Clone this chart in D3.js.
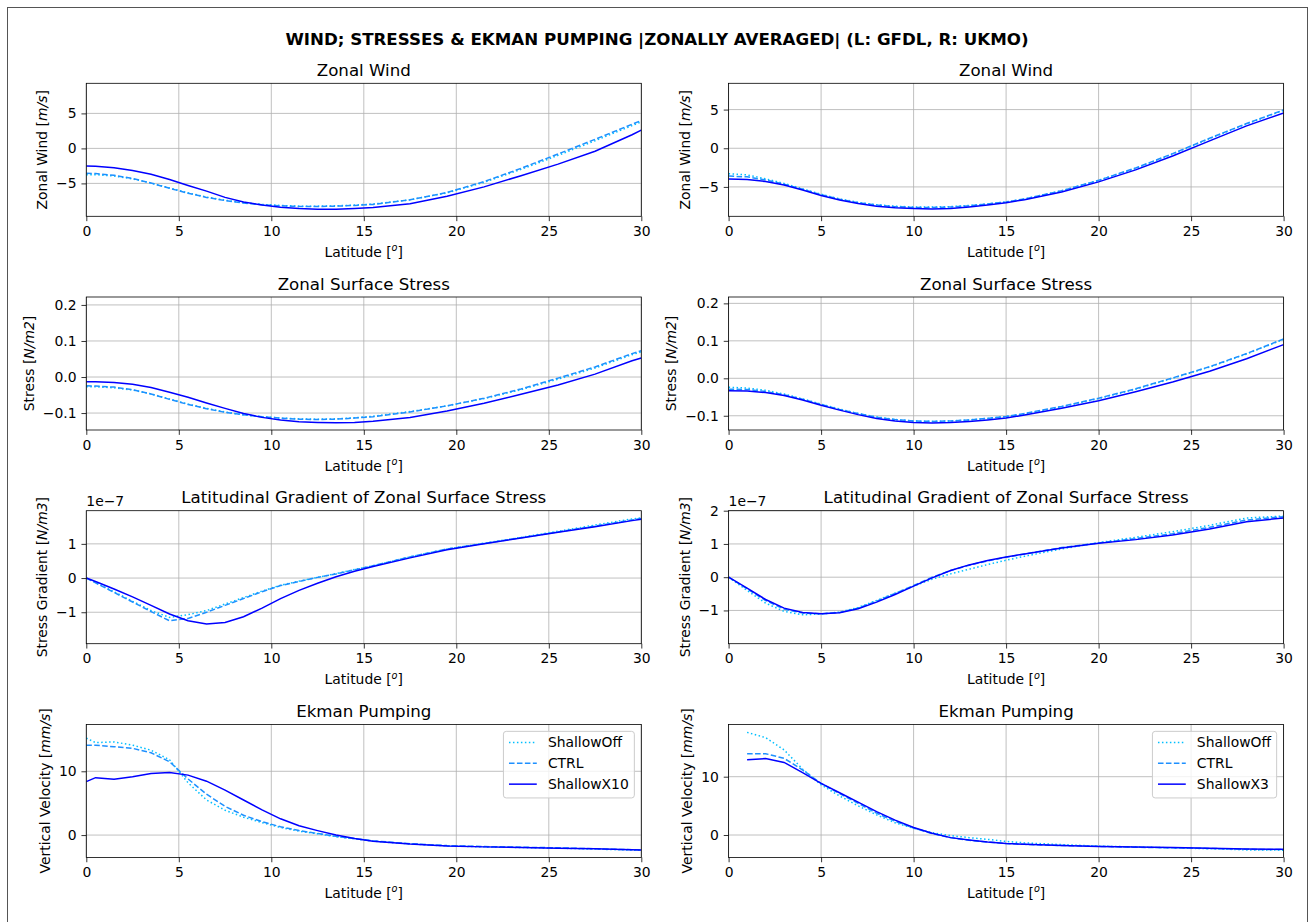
<!DOCTYPE html>
<html>
<head>
<meta charset="utf-8">
<script src="https://cdn.jsdelivr.net/npm/d3@7"></script>
<style>
  body { margin: 0; background: #fff; }
  svg { font-family: "DejaVu Sans", sans-serif; }
</style>
</head>
<body>
<div id="chart"></div>
<script>
// Latitudes of the two models
const latGFDL = [0, 0.5, 1.5, 2.5, 3.5, 4.5, 5.5, 6.5, 7.5, 8.5, 9.5, 10.5, 11.5, 12.5, 13.5, 14.5, 15.5, 17.5, 19.5, 21.5, 23.5, 25.5, 27.5, 29.5, 30]
const latUKMO = [0, 1, 2, 3, 4, 5, 6, 7, 8, 9, 10, 11, 12, 13, 14, 15, 16, 18, 20, 22, 24, 26, 28, 30]

// GFDL (left)
const gfdlWindOff  = [-3.75, -3.75, -3.95, -4.35, -4.95, -5.65, -6.35, -6.95, -7.4, -7.75, -8.0, -8.15, -8.25, -8.25, -8.2, -8.1, -7.95, -7.35, -6.35, -4.85, -3.0, -1.0, 1.1, 3.25, 3.8]
const gfdlWindCtrl = [-3.55, -3.6, -3.85, -4.3, -4.95, -5.7, -6.4, -7.0, -7.45, -7.8, -8.05, -8.2, -8.3, -8.3, -8.25, -8.15, -8.0, -7.35, -6.3, -4.75, -2.85, -0.8, 1.3, 3.45, 4.0]
const gfdlWindX10  = [-2.5, -2.55, -2.75, -3.15, -3.7, -4.45, -5.3, -6.1, -7.0, -7.65, -8.1, -8.4, -8.6, -8.7, -8.7, -8.6, -8.45, -7.9, -6.85, -5.5, -3.9, -2.25, -0.4, 1.95, 2.6]

const gfdlStressOff  = [-0.027, -0.027, -0.030, -0.036, -0.047, -0.061, -0.075, -0.087, -0.097, -0.105, -0.110, -0.114, -0.116, -0.117, -0.116, -0.113, -0.109, -0.096, -0.080, -0.060, -0.035, -0.006, 0.025, 0.062, 0.070]
const gfdlStressCtrl = [-0.024, -0.025, -0.028, -0.035, -0.047, -0.062, -0.076, -0.088, -0.098, -0.105, -0.110, -0.114, -0.117, -0.118, -0.117, -0.114, -0.110, -0.097, -0.080, -0.059, -0.033, -0.003, 0.028, 0.065, 0.073]
const gfdlStressX10  = [-0.013, -0.013, -0.015, -0.020, -0.029, -0.042, -0.056, -0.072, -0.087, -0.101, -0.112, -0.119, -0.124, -0.126, -0.127, -0.126, -0.123, -0.112, -0.094, -0.073, -0.048, -0.022, 0.008, 0.045, 0.053]

const gfdlGradOff  = [0, -0.13, -0.4, -0.68, -0.95, -1.15, -1.07, -0.95, -0.76, -0.57, -0.38, -0.21, -0.09, 0.02, 0.13, 0.25, 0.36, 0.62, 0.85, 1.02, 1.19, 1.37, 1.55, 1.73, 1.76]
const gfdlGradCtrl = [0, -0.14, -0.42, -0.7, -0.98, -1.25, -1.18, -1.0, -0.8, -0.6, -0.4, -0.22, -0.1, 0.02, 0.12, 0.24, 0.36, 0.62, 0.85, 1.01, 1.18, 1.35, 1.52, 1.70, 1.74]
const gfdlGradX10  = [0, -0.1, -0.32, -0.55, -0.8, -1.05, -1.25, -1.345, -1.3, -1.13, -0.88, -0.6, -0.36, -0.15, 0.04, 0.2, 0.34, 0.59, 0.83, 1.0, 1.17, 1.34, 1.5, 1.68, 1.72]

const gfdlEkmanOff  = [15.2, 14.5, 14.6, 14.1, 13.3, 11.8, 8.2, 5.5, 3.9, 2.8, 1.95, 1.2, 0.6, 0.2, -0.25, -0.6, -0.95, -1.4, -1.7, -1.85, -1.95, -2.05, -2.2, -2.35, -2.4]
const gfdlEkmanCtrl = [14.1, 14.1, 13.85, 13.6, 12.9, 11.5, 8.8, 6.4, 4.5, 3.1, 2.1, 1.3, 0.7, 0.25, -0.2, -0.55, -0.9, -1.35, -1.65, -1.8, -1.9, -2.0, -2.15, -2.3, -2.35]
const gfdlEkmanX10  = [8.37, 9.0, 8.74, 9.15, 9.65, 9.8, 9.4, 8.45, 7.05, 5.5, 3.95, 2.55, 1.45, 0.7, 0.0, -0.55, -0.95, -1.4, -1.7, -1.85, -1.95, -2.05, -2.15, -2.3, -2.35]

// UKMO (right)
const ukmoWindOff  = [-3.3, -3.45, -3.95, -4.55, -5.25, -5.95, -6.55, -7.0, -7.3, -7.5, -7.6, -7.6, -7.55, -7.4, -7.2, -6.95, -6.55, -5.5, -4.15, -2.6, -0.75, 1.25, 3.15, 4.9]
const ukmoWindCtrl = [-3.6, -3.7, -4.1, -4.65, -5.3, -6.0, -6.6, -7.05, -7.35, -7.55, -7.65, -7.65, -7.6, -7.45, -7.2, -6.95, -6.55, -5.5, -4.15, -2.55, -0.7, 1.3, 3.2, 4.95]
const ukmoWindX3   = [-3.97, -4.05, -4.3, -4.75, -5.4, -6.1, -6.7, -7.15, -7.5, -7.7, -7.8, -7.85, -7.8, -7.6, -7.35, -7.05, -6.65, -5.65, -4.35, -2.8, -1.0, 0.95, 2.9, 4.55]

const ukmoStressOff  = [-0.024, -0.026, -0.032, -0.042, -0.055, -0.069, -0.082, -0.094, -0.103, -0.110, -0.114, -0.115, -0.114, -0.111, -0.107, -0.102, -0.095, -0.076, -0.054, -0.029, 0.000, 0.030, 0.065, 0.104]
const ukmoStressCtrl = [-0.029, -0.030, -0.035, -0.044, -0.056, -0.070, -0.083, -0.094, -0.104, -0.110, -0.114, -0.115, -0.114, -0.111, -0.107, -0.102, -0.094, -0.075, -0.053, -0.028, 0.001, 0.031, 0.066, 0.105]
const ukmoStressX3   = [-0.033, -0.034, -0.038, -0.046, -0.058, -0.072, -0.085, -0.097, -0.107, -0.114, -0.118, -0.119, -0.118, -0.115, -0.111, -0.106, -0.098, -0.080, -0.060, -0.036, -0.010, 0.019, 0.052, 0.090]

const ukmoGradOff  = [0, -0.4, -0.78, -1.03, -1.13, -1.11, -1.05, -0.91, -0.7, -0.48, -0.27, -0.06, 0.1, 0.24, 0.38, 0.51, 0.63, 0.85, 1.04, 1.2, 1.37, 1.56, 1.78, 1.84]
const ukmoGradCtrl = [0, -0.35, -0.7, -0.96, -1.08, -1.1, -1.06, -0.93, -0.72, -0.49, -0.25, 0.0, 0.2, 0.36, 0.49, 0.6, 0.7, 0.89, 1.03, 1.16, 1.31, 1.5, 1.72, 1.82]
const ukmoGradX3   = [0, -0.33, -0.67, -0.93, -1.06, -1.1, -1.07, -0.95, -0.75, -0.52, -0.27, -0.02, 0.2, 0.37, 0.5, 0.61, 0.7, 0.88, 1.02, 1.13, 1.27, 1.45, 1.67, 1.78]

const ukmoEkmanOff  = [null, 17.6, 16.7, 14.6, 11.3, 8.6, 6.7, 5.0, 3.45, 2.1, 1.15, 0.4, -0.1, -0.45, -0.75, -1.1, -1.35, -1.65, -1.9, -2.05, -2.2, -2.35, -2.55, -2.6]
const ukmoEkmanCtrl = [null, 13.95, 13.95, 13.15, 11.15, 8.85, 7.1, 5.45, 3.75, 2.35, 1.2, 0.25, -0.45, -0.9, -1.2, -1.45, -1.6, -1.8, -1.95, -2.1, -2.2, -2.3, -2.45, -2.5]
const ukmoEkmanX3   = [null, 12.9, 13.1, 12.45, 10.7, 8.85, 7.25, 5.65, 4.0, 2.55, 1.3, 0.3, -0.45, -0.85, -1.2, -1.45, -1.6, -1.8, -1.95, -2.05, -2.15, -2.25, -2.4, -2.45]

// Labels and ticks
const xTicks = [0, 5, 10, 15, 20, 25, 30]
const titles = ['Zonal Wind', 'Zonal Surface Stress', 'Latitudinal Gradient of Zonal Surface Stress', 'Ekman Pumping']
const yLabels = [['Zonal Wind [', 'm/s', ']'], ['Stress [', 'N/m2', ']'], ['Stress Gradient [', 'N/m3', ']'], ['Vertical Velocity [', 'mm/s', ']']]
const namesGFDL = ['ShallowOff', 'CTRL', 'ShallowX10']
const namesUKMO = ['ShallowOff', 'CTRL', 'ShallowX3']
const colors = ['#00bfff', '#1e90ff', '#0000ff']
const dashes = ['1.5,2.475', '5.55,2.4', null]

// Layout
const W = 1308, H = 922
const colX = [86.3, 728.6]
const rowY = [83.3, 297, 510.7, 724.4]
const pw = 555, ph = 133
const fs = 13.9

const panels = [
  { col: 0, row: 0, lat: latGFDL, s: [gfdlWindOff, gfdlWindCtrl, gfdlWindX10], dom: [-9.7, 9.3], ticks: [-5, 0, 5], fmt: d3.format('d') },
  { col: 1, row: 0, lat: latUKMO, s: [ukmoWindOff, ukmoWindCtrl, ukmoWindX3], dom: [-8.8, 8.4], ticks: [-5, 0, 5], fmt: d3.format('d') },
  { col: 0, row: 1, lat: latGFDL, s: [gfdlStressOff, gfdlStressCtrl, gfdlStressX10], dom: [-0.147, 0.222], ticks: [-0.1, 0, 0.1, 0.2], fmt: d3.format('.1f') },
  { col: 1, row: 1, lat: latUKMO, s: [ukmoStressOff, ukmoStressCtrl, ukmoStressX3], dom: [-0.138, 0.217], ticks: [-0.1, 0, 0.1, 0.2], fmt: d3.format('.1f') },
  { col: 0, row: 2, lat: latGFDL, s: [gfdlGradOff, gfdlGradCtrl, gfdlGradX10], dom: [-1.92, 1.97], ticks: [-1, 0, 1], fmt: d3.format('d'), offset: true },
  { col: 1, row: 2, lat: latUKMO, s: [ukmoGradOff, ukmoGradCtrl, ukmoGradX3], dom: [-2, 2], ticks: [-1, 0, 1, 2], fmt: d3.format('d'), offset: true },
  { col: 0, row: 3, lat: latGFDL, s: [gfdlEkmanOff, gfdlEkmanCtrl, gfdlEkmanX10], dom: [-3.5, 17.35], ticks: [0, 10], fmt: d3.format('d'), names: namesGFDL },
  { col: 1, row: 3, lat: latUKMO, s: [ukmoEkmanOff, ukmoEkmanCtrl, ukmoEkmanX3], dom: [-3.84, 18.97], ticks: [0, 10], fmt: d3.format('d'), names: namesUKMO }
]

const svg = d3.select('#chart').append('svg')
  .attr('width', W)
  .attr('height', H)

// figure frame
svg.append('rect')
  .attr('x', 7.5).attr('y', 7.5)
  .attr('width', 1300).attr('height', 940)
  .attr('fill', '#fff').attr('stroke', '#555').attr('stroke-width', 1)

svg.append('text')
  .attr('x', 657).attr('y', 45)
  .attr('text-anchor', 'middle')
  .attr('font-size', 16.67).attr('font-weight', 'bold')
  .text('WIND; STRESSES & EKMAN PUMPING |ZONALLY AVERAGED| (L: GFDL, R: UKMO)')

panels.forEach((p, i) => {
  const left = colX[p.col], top = rowY[p.row]
  const g = svg.append('g').attr('transform', `translate(${left},${top})`)

  const x = d3.scaleLinear().domain([0, 30]).range([0, pw])
  const y = d3.scaleLinear().domain(p.dom).range([ph, 0])

  svg.append('clipPath').attr('id', 'clip' + i)
    .append('rect').attr('width', pw).attr('height', ph)

  // grid
  const grid = g.append('g').attr('stroke', '#b0b0b0').attr('stroke-width', 0.8)
  grid.selectAll('.gx').data(xTicks).enter().append('line')
    .attr('x1', d => x(d)).attr('x2', d => x(d)).attr('y1', 0).attr('y2', ph)
  grid.selectAll('.gy').data(p.ticks).enter().append('line')
    .attr('x1', 0).attr('x2', pw).attr('y1', d => y(d)).attr('y2', d => y(d))

  // lines
  const line = d3.line()
    .defined(d => d[1] !== null)
    .x(d => x(d[0]))
    .y(d => y(d[1]))
  const lg = g.append('g').attr('clip-path', `url(#clip${i})`)
  p.s.forEach((vals, k) => {
    lg.append('path')
      .datum(p.lat.map((la, j) => [la, vals[j]]))
      .attr('d', line)
      .attr('fill', 'none')
      .attr('stroke', colors[k])
      .attr('stroke-width', 1.5)
      .attr('stroke-dasharray', dashes[k])
  })

  // axes
  const xa = g.append('g').attr('transform', `translate(0,${ph})`)
    .call(d3.axisBottom(x).tickValues(xTicks).tickSize(4.86).tickPadding(4.86).tickFormat(d3.format('d')))
  const ya = g.append('g')
    .call(d3.axisLeft(y).tickValues(p.ticks).tickSize(4.86).tickPadding(4.86).tickFormat(p.fmt))
  ;[xa, ya].forEach(a => {
    a.select('.domain').remove()
    a.attr('font-size', fs).attr('font-family', null)
    a.selectAll('line').attr('stroke', '#000').attr('stroke-width', 0.8)
    a.selectAll('text').attr('fill', '#000')
  })

  // spines
  g.append('rect').attr('width', pw).attr('height', ph)
    .attr('fill', 'none').attr('stroke', '#000').attr('stroke-width', 0.8)

  // title
  g.append('text')
    .attr('x', pw / 2).attr('y', -7.5)
    .attr('text-anchor', 'middle')
    .attr('font-size', 16.67)
    .text(titles[p.row])

  // x label
  const xl = g.append('text')
    .attr('x', pw / 2).attr('y', ph + 40.5)
    .attr('text-anchor', 'middle')
    .attr('font-size', fs)
  xl.append('tspan').text('Latitude [')
  xl.append('tspan').attr('font-style', 'italic').attr('font-size', fs * 0.7).attr('dy', -5.5).text('o')
  xl.append('tspan').attr('dy', 5.5).text(']')

  // y label
  const bb = ya.node().getBBox()
  const lx = bb.x - 5.56 - 3.3
  const yl = g.append('text')
    .attr('transform', `translate(${lx},${ph / 2}) rotate(-90)`)
    .attr('text-anchor', 'middle')
    .attr('font-size', fs)
  const lab = yLabels[p.row]
  yl.append('tspan').text(lab[0])
  yl.append('tspan').attr('font-style', 'italic').text(lab[1])
  yl.append('tspan').text(lab[2])

  // offset text
  if (p.offset) {
    g.append('text')
      .attr('x', 0).attr('y', -4.5)
      .attr('font-size', fs)
      .text('1e\u22127')
  }

  // legend
  if (p.names) {
    const leg = g.append('g')
    const items = leg.selectAll('g').data(p.names).enter().append('g')
    const tw = []
    items.append('text')
      .attr('x', 5.56 + 27.8 + 11.1)
      .attr('font-size', fs)
      .attr('dy', '0.35em')
      .text(d => d)
      .each(function () { tw.push(this.getComputedTextLength()) })
    const bw = 5.56 + 27.8 + 11.1 + d3.max(tw) + 5.56
    const bh = 66.6
    leg.attr('transform', `translate(${pw - 6.95 - bw},6.95)`)
    leg.insert('rect', ':first-child')
      .attr('width', bw).attr('height', bh)
      .attr('rx', 2.8)
      .attr('fill', '#fff').attr('fill-opacity', 0.8)
      .attr('stroke', '#cccccc').attr('stroke-width', 1)
    items.attr('transform', (d, k) => `translate(0,${11.2 + k * 20.8})`)
    items.append('line')
      .attr('x1', 5.56).attr('x2', 5.56 + 27.8)
      .attr('stroke', (d, k) => colors[k])
      .attr('stroke-width', 1.5)
      .attr('stroke-dasharray', (d, k) => dashes[k])
  }
})
</script>
</body>
</html>
